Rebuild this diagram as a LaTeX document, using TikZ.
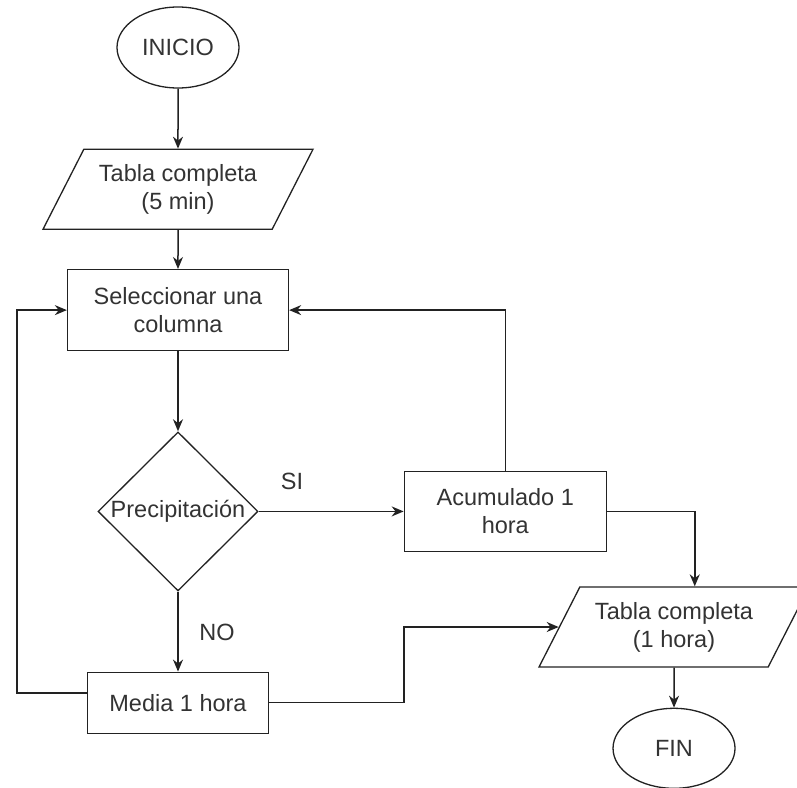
\documentclass[tikz,border=0pt]{standalone}
\usepackage{fontspec}
\setmainfont{Liberation Sans}
\usepackage{tikz}
\usetikzlibrary{shapes.geometric, arrows.meta, positioning}
\definecolor{linegray}{HTML}{222222}
\definecolor{textgray}{HTML}{333333}
\newcommand{\flowfont}{\fontsize{23.5}{28}\selectfont}
\tikzstyle{startstop} = [ellipse, minimum width=122pt, minimum height=81pt, inner sep=0pt,
  draw=linegray, line width=1.3pt, font=\flowfont, text=textgray]
\tikzstyle{iobox} = [trapezium, trapezium left angle=50.7, trapezium right angle=129.3,
  trapezium stretches body, minimum width=270pt, minimum height=80pt, inner sep=0pt,
  align=center, draw=linegray, line width=1.3pt, font=\flowfont, text=textgray]
\tikzstyle{processbox} = [rectangle, minimum width=200pt, minimum height=80pt, inner sep=0pt,
  align=center, draw=linegray, line width=1.3pt, font=\flowfont, text=textgray]
\tikzstyle{decisionbox} = [diamond, minimum width=160pt, minimum height=159pt, inner sep=0pt,
  draw=linegray, line width=1.3pt, font=\flowfont, text=textgray]
\tikzstyle{edgelabel} = [font=\flowfont, text=textgray]
\tikzstyle{arrow} = [line width=1.5pt, draw=linegray, -{Stealth[length=12pt, width=10pt]}]

\begin{document}
\begin{tikzpicture}[x=1pt, y=-1pt]
  \useasboundingbox (0,0) rectangle (797,787);
  \clip (0,0) rectangle (797,787);

  \node (inicio) [startstop] at (178,47.5) {INICIO};
  \node (tabla1) [iobox, below=60pt of inicio] {Tabla completa\\(5 min)};
  \node (sel)    [processbox, below=39pt of tabla1, minimum width=221pt, minimum height=81pt] {Seleccionar una\\columna};
  \node (prec)   [decisionbox, below=80pt of sel] {\makebox[0pt]{Precipitación}};
  \node (acum)   [processbox, right=145pt of prec, minimum width=202pt] {Acumulado 1\\hora};
  \node (media)  [processbox, below=80pt of prec, minimum width=181pt, minimum height=61pt] {Media 1 hora};
  \node (tabla2) [iobox] at (674,627) {Tabla completa\\(1 hora)};
  \node (fin)    [startstop, below=40pt of tabla2, minimum height=80pt] {FIN};

  \draw[arrow] (inicio) -- (tabla1);
  \draw[arrow] (tabla1) -- (sel);
  \draw[arrow] (sel) -- (prec);
  \draw[arrow] (prec) -- node[edgelabel, pos=0.23, yshift=30pt] {SI} (acum);
  \draw[arrow] (prec) -- node[edgelabel, pos=0.51, xshift=39pt] {NO} (media);
  \draw[arrow] (acum.north) |- (sel.east);
  \draw[arrow] ([yshift=9.5pt]media.west) -- ++(-70,0) |- (sel.west);
  \draw[arrow] (media.east) -- ++(135,0) |- (tabla2.left side);
  \draw[arrow] (acum.east) -| (tabla2.top side);
  \draw[arrow] (tabla2) -- (fin);
\end{tikzpicture}
\end{document}
